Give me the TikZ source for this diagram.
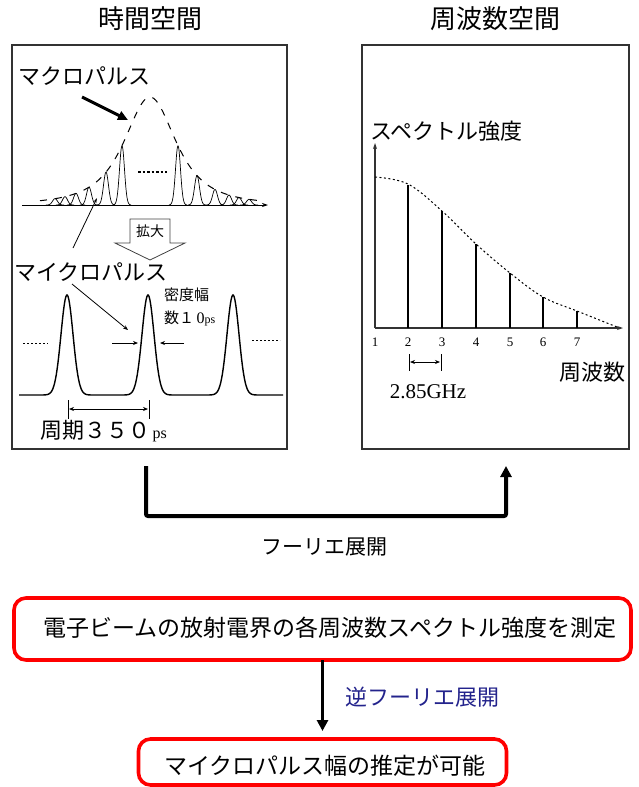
\documentclass[tikz,border=0pt]{standalone}
\usepackage{fontspec}
\setmainfont{Liberation Serif}
\newfontfamily\jp{Noto Sans CJK JP}
\usetikzlibrary{arrows.meta}
\definecolor{navytxt}{RGB}{35,35,140}
\definecolor{framec}{RGB}{50,50,50}
\begin{document}
\begin{tikzpicture}[x=1pt,y=-1pt,
  every node/.style={inner sep=0pt, outer sep=0pt},
  jp/.style={font=\jp\fontsize{#1}{#1}\selectfont},
  rm/.style={font=\fontsize{#1}{#1}\selectfont},
  panel/.style={draw=framec, line width=1.3pt, anchor=north west},
  redbox/.style={draw=red, line width=3.6pt, rounded corners=12pt},
  thin/.style={line width=0.8pt},
  sarrow/.style={-{Stealth[length=5pt,width=4pt]}},
  darrow/.style={{Stealth[length=5pt,width=4pt]}-{Stealth[length=5pt,width=4pt]}},
  bigarrow/.style={line width=4pt, -{Triangle[length=11pt,width=11pt]}}
]
\useasboundingbox (0,0) rectangle (638,787);

% titles
\node[jp=26] (t1) at (150,19) {時間空間};
\node[jp=26] (t2) at (495,19) {周波数空間};

% panels
\node[panel, minimum width=275pt, minimum height=404pt] (lp) at (12,45) {};
\node[panel, minimum width=267pt, minimum height=404pt] (rp) at (362,45) {};

% ---------- left panel: macro pulse ----------
\node[jp=22, anchor=west] (macro) at (18,76) {マクロパルス};
\coordinate (ma0) at (82,97);
\coordinate (ma1) at (128,120);
\draw[line width=3pt, -{Triangle[length=10pt,width=9pt]}] (ma0) -- (ma1);

\coordinate (ax0) at (22,205);
\coordinate (ax1) at (268,205);
\draw[thin, -{Stealth[length=6pt,width=4pt]}] (ax0) -- (ax1);

\foreach \xc in {55,65,76,89,106,122,178,197,215,229,239,249} {
  \pgfmathsetmacro\hh{108/((1+((\xc-150)/40)*((\xc-150)/40))^1.5)}
  \pgfmathsetmacro\xa{\xc-9}
  \pgfmathsetmacro\xb{\xc+9}
  \draw[line width=0.7pt] plot[domain=\xa:\xb, samples=40, smooth]
    (\x,{205-\hh*exp(-((\x-\xc)/3.5)*((\x-\xc)/3.5))});
}
\draw[line width=1pt, dash pattern=on 7pt off 8pt] plot[domain=40:262, samples=120, smooth]
  (\x,{205-108/((1+((\x-150)/40)*((\x-150)/40))^1.5)});
\draw[line width=2pt, dash pattern=on 2.5pt off 2pt] (138,172) -- (167,172);

% micro pulse label and arrows
\node[jp=22, anchor=west] (micro) at (14,272) {マイクロパルス};
\coordinate (mi0) at (73,248);
\coordinate (mi1) at (97,198);
\draw[thin, -{Stealth[length=5pt,width=3pt]}] (mi0) -- (mi1);

% zoom arrow
\draw[line width=0.8pt, draw=black!75] (130,219) -- (170,219) -- (170,243) -- (185,243)
  -- (150,260) -- (115,243) -- (130,243) -- cycle;
\node[jp=14] (kakudai) at (150,231) {拡大};

% enlarged pulses
\draw[line width=1.4pt] (19,395) -- (42,395)
  -- plot[domain=42:92, samples=70, smooth] (\x,{395-100*exp(-((\x-67)/8.5)*((\x-67)/8.5))})
  -- plot[domain=123:173, samples=70, smooth] (\x,{395-100*exp(-((\x-148)/8.5)*((\x-148)/8.5))})
  -- plot[domain=208:258, samples=70, smooth] (\x,{395-100*exp(-((\x-233)/8.5)*((\x-233)/8.5))})
  -- (283,395);
\draw[thin, dash pattern=on 2pt off 2pt] (23,343) -- (48,343);
\draw[thin, dash pattern=on 2pt off 2pt] (252,340) -- (280,340);

\coordinate (mi2) at (72,284);
\coordinate (mi3) at (128,330);
\draw[thin, sarrow] (mi2) -- (mi3);

\coordinate (w0) at (112,343);
\coordinate (w1) at (138,343);
\coordinate (w2) at (184,343);
\coordinate (w3) at (160,343);
\draw[thin, sarrow] (w0) -- (w1);
\draw[thin, sarrow] (w2) -- (w3);
\node[jp=15, anchor=west] (d1) at (164,295) {密度幅};
\node[anchor=west] (d2) at (164,318) {{\jp\fontsize{15}{15}\selectfont 数１}\fontsize{16}{16}\selectfont\,0{\fontsize{12}{12}\selectfont ps}};

% period
\coordinate (p0) at (68,400);
\coordinate (p0b) at (68,419);
\coordinate (p1) at (149,400);
\coordinate (p1b) at (149,419);
\draw[thin] (p0) -- (p0b);
\draw[thin] (p1) -- (p1b);
\coordinate (pa) at (69,409);
\coordinate (pb) at (148,409);
\draw[thin, darrow] (pa) -- (pb);
\node[anchor=west] (period) at (40,431) {{\jp\fontsize{22}{22}\selectfont 周期３５０}\fontsize{16}{16}\selectfont\,ps};

% ---------- right panel ----------
\node[jp=22, anchor=west] (spec) at (370,131) {スペクトル強度};
\coordinate (o) at (375,328);
\coordinate (yt) at (375,143);
\coordinate (xt) at (623,328);
\draw[line width=1.2pt, draw=black!80, -{Stealth[length=6pt,width=4pt]}] (o) -- (yt);
\draw[line width=1.2pt, draw=black!80, -{Stealth[length=6pt,width=4pt]}] (o) -- (xt);
\foreach \xx/\tt in {408/185,442/211,476/244,510/273,543/297,577/311}
  \draw[line width=2.6pt] (\xx,328) -- (\xx,\tt);
\draw[line width=1pt, dash pattern=on 2pt off 2.5pt] plot[smooth, tension=0.6] coordinates
  {(375,177) (408,184) (442,211) (476,244) (510,273) (543,297) (577,311) (617,327)};
\foreach \i/\xx in {1/375,2/408,3/442,4/476,5/510,6/543,7/577}
  \node[rm=13] (n\i) at (\xx,342) {\i};

\coordinate (g0) at (409,354);
\coordinate (g0b) at (409,371);
\coordinate (g1) at (441,354);
\coordinate (g1b) at (441,371);
\draw[thin] (g0) -- (g0b);
\draw[thin] (g1) -- (g1b);
\coordinate (ga) at (410,362);
\coordinate (gb) at (440,362);
\draw[thin, darrow] (ga) -- (gb);
\node[rm=21] (ghz) at (428,392) {2.85GHz};
\node[jp=22] (freq) at (592,372) {周波数};

% ---------- Fourier arrow ----------
\coordinate (f0) at (146,466);
\coordinate (f2) at (506,516);
\coordinate (f3) at (506,466);
\draw[bigarrow, rounded corners=2pt] (f0) |- (f2) -- (f3);
\node[jp=21] (fourier) at (324,547) {フーリエ展開};

% ---------- bottom boxes ----------
\node[redbox, minimum width=617pt, minimum height=62pt] (b1) at (322.5,629) {};
\node[jp=23] (b1t) at (330,628) {電子ビームの放射電界の各周波数スペクトル強度を測定};
\node[redbox, minimum width=368pt, minimum height=46pt] (b2) at (322.5,762) {};
\node[jp=23] (b2t) at (325,766) {マイクロパルス幅の推定が可能};
\draw[bigarrow, line width=3.6pt, shorten >=8pt] (b1.south) -- (b1.south |- b2.north);
\node[jp=22, anchor=west, text=navytxt] (inv) at (345,697) {逆フーリエ展開};

\end{tikzpicture}
\end{document}
